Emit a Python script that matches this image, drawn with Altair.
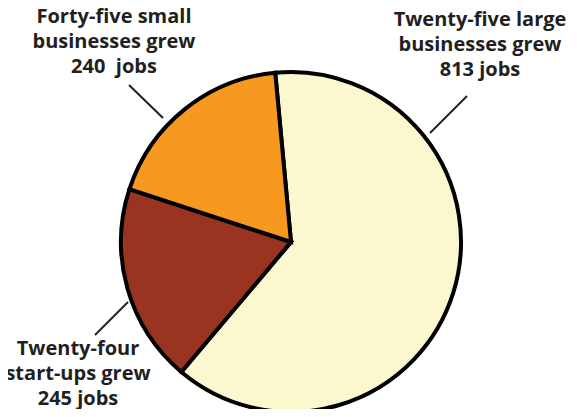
import altair as alt
import pandas as pd

# Data
categories = ["Twenty-five large businesses", "Twenty-four start-ups", "Forty-five small businesses"]
jobs = [813, 245, 240]
order = [0, 1, 2]
colors = ["#FBF8D0", "#98341F", "#F7991F"]

label_texts = [
    "Twenty-five large\nbusinesses grew\n813 jobs",
    "Twenty-four\nstart-ups grew\n245 jobs",
    "Forty-five small\nbusinesses grew\n240\u00a0 jobs",
]

df = pd.DataFrame({"category": categories, "jobs": jobs, "order": order})

# Layout (annotation placement, chart pixel coords)
CX, CY, R = 283, 234, 170
START = -0.093  # radians: first slice starts slightly left of 12 o'clock
label_x = [472, 70, 106]
label_y = [12, 341, 9]
leader = [(459, 88, 422, 125), (87, 327, 120, 294), (121, 77, 155, 110)]

pie = alt.Chart(df).mark_arc(stroke="black", strokeWidth=4, strokeJoin="miter").encode(
    theta=alt.Theta("jobs:Q", stack=True, scale=alt.Scale(range=[START, START + 6.283185])),
    order=alt.Order("order:Q"),
    color=alt.Color("category:N", scale=alt.Scale(domain=categories, range=colors), legend=None),
    x=alt.value(CX),
    y=alt.value(CY),
    radius=alt.value(R),
)

lab_df = pd.DataFrame({"text": label_texts, "lx": label_x, "ly": label_y})
labels = alt.Chart(lab_df).mark_text(
    font="Open Sans", fontWeight="bold", fontSize=20, color="#231F20",
    lineHeight=25, align="center", baseline="middle", lineBreak="\n"
).encode(
    x=alt.X("lx:Q", scale=None),
    y=alt.Y("ly:Q", scale=None),
    text="text:N",
)

lead_df = pd.DataFrame({
    "x1": [l[0] for l in leader], "y1": [l[1] for l in leader],
    "x2": [l[2] for l in leader], "y2": [l[3] for l in leader],
})
leaders = alt.Chart(lead_df).mark_rule(color="#231F20", strokeWidth=2).encode(
    x=alt.X("x1:Q", scale=None), y=alt.Y("y1:Q", scale=None),
    x2="x2:Q", y2="y2:Q",
)

chart = alt.layer(leaders, pie, labels).properties(
    width=561, height=401, padding=0, autosize=alt.AutoSizeParams(type="none")
).configure_view(stroke=None)

chart.save("out.html", embed_options={"renderer": "svg", "actions": False})
